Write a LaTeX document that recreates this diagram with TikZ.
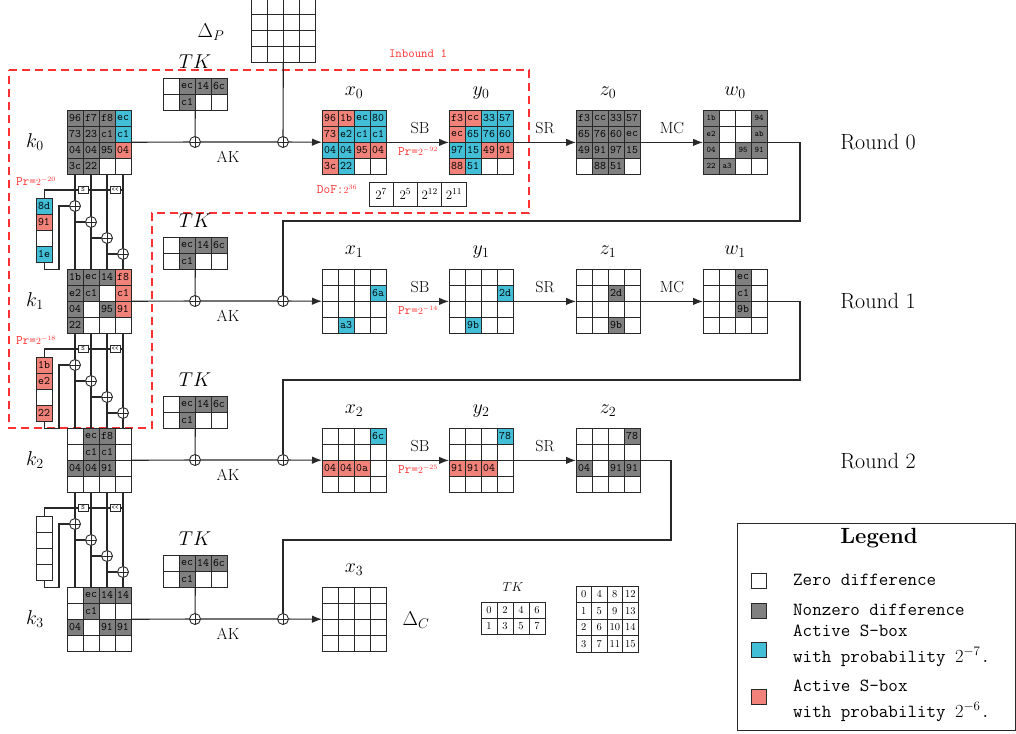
\RequirePackage{fix-cm}
\documentclass[tikz,border=0pt]{standalone}
\usetikzlibrary{arrows.meta,calc}

\definecolor{ink}{RGB}{40,40,40}
\definecolor{nz}{RGB}{128,128,128}
\definecolor{ac7}{RGB}{66,190,214}
\definecolor{ac6}{RGB}{240,130,122}
\definecolor{hot}{RGB}{252,50,50}

\newcommand\hexfont{\fontsize{11.5}{12}\ttfamily}
\newcommand\smallhexfont{\fontsize{8.5}{9}\ttfamily}
\newcommand\lblfont{\fontsize{20}{24}\selectfont}
\newcommand\opfont{\fontsize{16}{19}\selectfont}
\newcommand\notefont{\fontsize{13}{15}\ttfamily}
\newcommand\legfont{\fontsize{18.5}{26}\ttfamily}

\tikzset{
  cell/.style={draw=ink, line width=0.8pt, fill=white, minimum width=16pt,
    minimum height=16pt, inner sep=0pt, font=\hexfont},
  frame/.style={draw=ink, line width=0.8pt, inner sep=0pt},
  wire/.style={draw=ink, line width=1.1pt},
  flow/.style={wire, -{Latex[length=10pt,width=7.5pt]}},
  xor/.style={circle, draw=ink, line width=0.9pt, fill=white, inner sep=0pt,
    minimum size=11pt, path picture={\draw[ink, line width=0.9pt]
      (path picture bounding box.north) -- (path picture bounding box.south)
      (path picture bounding box.west) -- (path picture bounding box.east);}},
  opbox/.style={draw=ink, line width=0.7pt, fill=white, inner sep=1pt,
    minimum width=10pt, minimum height=7pt, font=\fontsize{6.5}{7}\ttfamily},
  lbl/.style={font=\lblfont},
  oplbl/.style={font=\opfont},
  prob/.style={text=hot, font=\notefont},
  swatch/.style={draw=ink, line width=0.8pt, minimum size=15pt, inner sep=0pt},
  legtext/.style={anchor=west, font=\legfont, inner sep=0pt},
}

% empty grid of 16pt cells; #1 name, #2 left, #3 top, #4 columns, #5 rows
\newcommand\blankgrid[5]{%
  \foreach \gi in {1,...,#4}{%
    \foreach \gj in {1,...,#5}{%
      \node[cell] (#1-\gi-\gj) at ({#2+16*\gi-8},{#3+16*\gj-8}) {};}}%
  \node[frame, minimum width=16*#4, minimum height=16*#5, anchor=north west] (#1) at (#2,#3) {};}

% coloured cells: column/row/colour/text
\newcommand\paint[3][]{%
  \foreach \cx/\cy/\ck/\ct in {#3}{%
    \node[cell, fill=\ck, #1] (#2-\cx-\cy) at ($(#2.north west)+({16*\cx-8},{16*\cy-8})$) {\ct};}}

\begin{document}
\begin{tikzpicture}[x=1pt,y=-1pt]
\useasboundingbox (0,0) rectangle (1016,733);
\clip (0,0) rectangle (1016,733);

% plaintext difference
\blankgrid{dp}{251}{-2}{4}{4}
\node[lbl] (dplbl) at (211,32) {$\Delta_P$};

% inbound phase
\draw[hot, line width=1.1pt, dash pattern=on 8pt off 5pt]
  (9,70) -- (529,70) -- (529,213) -- (152,213) -- (152,428) -- (9,428) -- cycle;
\node[text=hot, font=\fontsize{12.5}{14}\ttfamily] (inb) at (418,54) {Inbound 1};

% per-round key, tweakey and state input
\foreach \rw/\tp in {0/110,1/269,2/428,3/587}{
  \blankgrid{tk\rw}{163}{\tp-32}{4}{2}
  \paint{tk\rw}{2/1/nz/ec, 3/1/nz/14, 4/1/nz/6c, 2/2/nz/c1}
  \node[lbl] (tkl\rw) at (195,\tp-48) {$TK$};
  \node[xor] (ak\rw) at (195,\tp+32) {};
  \node[xor] (xp\rw) at (283,\tp+32) {};
  \node[oplbl] (akl\rw) at (228,\tp+47) {AK};
  \node[lbl] (kl\rw) at (35,\tp+32) {$k_\rw$};
  \blankgrid{k\rw}{67}{\tp}{4}{4}
  \blankgrid{x\rw}{322}{\tp}{4}{4}
  \node[lbl] (xl\rw) at (354,\tp-17) {$x_\rw$};
  \draw[wire] (tk\rw) -- (ak\rw);
  \draw[wire] (k\rw) -- (ak\rw) -- (xp\rw);
  \draw[flow] (xp\rw) -- (x\rw);
}

\paint{k0}{1/1/nz/96, 2/1/nz/f7, 3/1/nz/f8, 4/1/ac7/ec, 1/2/nz/73, 2/2/nz/23,
  3/2/nz/c1, 4/2/ac7/c1, 1/3/nz/04, 2/3/nz/04, 3/3/nz/95, 4/3/ac6/04, 1/4/nz/3c, 2/4/nz/22}
\paint{k1}{1/1/nz/1b, 2/1/nz/ec, 3/1/nz/14, 4/1/ac6/f8, 1/2/nz/e2, 2/2/nz/c1,
  4/2/ac6/c1, 1/3/nz/04, 3/3/nz/95, 4/3/ac6/91, 1/4/nz/22}
\paint{k2}{2/1/nz/ec, 3/1/nz/f8, 2/2/nz/c1, 3/2/nz/c1, 1/3/nz/04, 2/3/nz/04, 3/3/nz/91}
\paint{k3}{2/1/nz/ec, 3/1/nz/14, 4/1/nz/14, 2/2/nz/c1, 1/3/nz/04, 3/3/nz/91, 4/3/nz/91}

% key schedule between consecutive round keys
\foreach \ks/\bt/\nx in {0/174/1, 1/333/2, 2/492/3}{
  \coordinate (tap\ks) at (123,\bt+16);
  \node[opbox] (sb\ks) at (83,\bt+16) {S};
  \node[opbox] (rot\ks) at (115,\bt+16) {{<}{<}};
  \blankgrid{cv\ks}{36}{\bt+24}{1}{4}
  \node[xor] (ka\ks) at (75,\bt+32) {};
  \node[xor] (kb\ks) at (91,\bt+48) {};
  \node[xor] (kc\ks) at (107,\bt+64) {};
  \node[xor] (kd\ks) at (123,\bt+80) {};
  \coordinate (ret\ks) at (59,\bt+32);
  \draw[wire] (k\ks-1-4) -- (ka\ks) -- (k\nx-1-1);
  \draw[wire] (k\ks-2-4) -- (kb\ks) -- (k\nx-2-1);
  \draw[wire] (k\ks-3-4) -- (kc\ks) -- (k\nx-3-1);
  \draw[wire] (k\ks-4-4) -- (kd\ks) -- (k\nx-4-1);
  \draw[wire] (ka\ks) |- (kb\ks);
  \draw[wire] (kb\ks) |- (kc\ks);
  \draw[wire] (kc\ks) |- (kd\ks);
  \draw[wire] (tap\ks) -- (rot\ks) -- (sb\ks) -| (cv\ks);
  \draw[wire] (cv\ks.south) -- ++(0,7) -| (ret\ks) -- (ka\ks);
}
\paint{cv0}{1/1/ac7/8d, 1/2/ac6/91, 1/4/ac7/1e}
\paint{cv1}{1/1/ac6/1b, 1/2/ac6/e2, 1/4/ac6/22}
\node[prob] (pk0) at (36,181) {Pr={\fontsize{9.5}{10}\selectfont$2^{-20}$}};
\node[prob] (pk1) at (36,340) {Pr={\fontsize{9.5}{10}\selectfont$2^{-18}$}};

% round 0
\paint{x0}{1/1/ac6/96, 2/1/ac6/1b, 3/1/ac7/ec, 4/1/ac7/80, 1/2/ac6/73, 2/2/ac7/e2,
  3/2/ac7/c1, 4/2/ac7/c1, 1/3/ac7/04, 2/3/ac7/04, 3/3/ac6/95, 4/3/ac6/04, 1/4/ac6/3c, 2/4/ac7/22}
\blankgrid{y0}{449}{110}{4}{4}
\paint{y0}{1/1/ac6/f3, 2/1/ac6/cc, 3/1/ac7/33, 4/1/ac7/57, 1/2/ac6/ec, 2/2/ac7/65,
  3/2/ac7/76, 4/2/ac7/60, 1/3/ac7/97, 2/3/ac7/15, 3/3/ac6/49, 4/3/ac6/91, 1/4/ac6/88, 2/4/ac7/51}
\blankgrid{z0}{576}{110}{4}{4}
\paint{z0}{1/1/nz/f3, 2/1/nz/cc, 3/1/nz/33, 4/1/nz/57, 1/2/nz/65, 2/2/nz/76,
  3/2/nz/60, 4/2/nz/ec, 1/3/nz/49, 2/3/nz/91, 3/3/nz/97, 4/3/nz/15, 2/4/nz/88, 3/4/nz/51}
\blankgrid{w0}{703}{110}{4}{4}
\paint[font=\smallhexfont]{w0}{1/1/nz/1b, 4/1/nz/94, 1/2/nz/e2, 4/2/nz/ab, 1/3/nz/04,
  3/3/nz/95, 4/3/nz/91, 1/4/nz/22, 2/4/nz/a3}
\node[lbl] (yl0) at (481,93) {$y_0$};
\node[lbl] (zl0) at (608,93) {$z_0$};
\node[lbl] (wl0) at (735,93) {$w_0$};
\draw[flow] (x0) -- (y0);
\draw[flow] (y0) -- (z0);
\draw[flow] (z0) -- (w0);
\node[oplbl] (sbl0) at (420,128) {SB};
\node[prob] (pr0) at (418,151) {Pr={\fontsize{9.5}{10}\selectfont$2^{-92}$}};
\node[oplbl] (srl0) at (545,128) {SR};
\node[oplbl] (mcl0) at (672,128) {MC};
\node[font=\fontsize{22}{26}\selectfont] (rd0) at (878,142) {Round 0};
\draw[wire] (dp) -- (xp0);

% degrees of freedom
\node[prob] (dof) at (337,189) {DoF:{\fontsize{9.5}{10}\selectfont$2^{36}$}};
\foreach \q/\ex in {1/7,2/5,3/12,4/11}{
  \node[draw=ink, line width=0.8pt, minimum width=24.25pt, minimum height=24pt,
    inner sep=0pt, font=\fontsize{13}{14}\selectfont] (dof\q) at ({369+24.25*\q-12.125},194) {$2^{\ex}$};
}

% round 1
\paint{x1}{4/2/ac7/6a, 2/4/ac7/a3}
\blankgrid{y1}{449}{269}{4}{4}
\paint{y1}{4/2/ac7/2d, 2/4/ac7/9b}
\blankgrid{z1}{576}{269}{4}{4}
\paint{z1}{3/2/nz/2d, 3/4/nz/9b}
\blankgrid{w1}{703}{269}{4}{4}
\paint{w1}{3/1/nz/ec, 3/2/nz/c1, 3/3/nz/9b}
\node[lbl] (yl1) at (481,252) {$y_1$};
\node[lbl] (zl1) at (608,252) {$z_1$};
\node[lbl] (wl1) at (735,252) {$w_1$};
\draw[flow] (x1) -- (y1);
\draw[flow] (y1) -- (z1);
\draw[flow] (z1) -- (w1);
\node[oplbl] (sbl1) at (420,287) {SB};
\node[prob] (pr1) at (418,310) {Pr={\fontsize{9.5}{10}\selectfont$2^{-14}$}};
\node[oplbl] (srl1) at (545,287) {SR};
\node[oplbl] (mcl1) at (672,287) {MC};
\node[font=\fontsize{22}{26}\selectfont] (rd1) at (878,301) {Round 1};
\coordinate (fb0) at (800,221);
\draw[wire] (w0) -| (fb0) -| (xp1);

% round 2
\paint{x2}{4/1/ac7/6c, 1/3/ac6/04, 2/3/ac6/04, 3/3/ac6/0a}
\blankgrid{y2}{449}{428}{4}{4}
\paint{y2}{4/1/ac7/78, 1/3/ac6/91, 2/3/ac6/91, 3/3/ac6/04}
\blankgrid{z2}{576}{428}{4}{4}
\paint{z2}{4/1/nz/78, 1/3/nz/04, 3/3/nz/91, 4/3/nz/91}
\node[lbl] (yl2) at (481,411) {$y_2$};
\node[lbl] (zl2) at (608,411) {$z_2$};
\draw[flow] (x2) -- (y2);
\draw[flow] (y2) -- (z2);
\node[oplbl] (sbl2) at (420,446) {SB};
\node[prob] (pr2) at (418,469) {Pr={\fontsize{9.5}{10}\selectfont$2^{-25}$}};
\node[oplbl] (srl2) at (545,446) {SR};
\node[font=\fontsize{22}{26}\selectfont] (rd2) at (878,461) {Round 2};
\coordinate (fb1) at (800,380);
\draw[wire] (w1) -| (fb1) -| (xp2);

% output
\coordinate (fb2) at (671,540);
\draw[wire] (z2) -| (fb2) -| (xp3);
\node[lbl] (dcl) at (416,620) {$\Delta_C$};

% cell numbering
\node[font=\fontsize{13}{15}\selectfont] (tkn) at (513,587) {$TK$};
\foreach \ca in {1,...,4}{\foreach \ra in {1,2}{
  \pgfmathtruncatemacro\vv{2*(\ca-1)+\ra-1}
  \node[cell, font=\fontsize{10.5}{12}\selectfont] (tkn-\ca-\ra) at ({481+16*\ca-8},{602+16*\ra-8}) {\vv};}}
\foreach \ca in {1,...,4}{\foreach \ra in {1,...,4}{
  \pgfmathtruncatemacro\vv{4*(\ca-1)+\ra-1}
  \node[cell, minimum width=15.5pt, minimum height=16.5pt, font=\fontsize{10.5}{12}\selectfont]
    (stn-\ca-\ra) at ({576+15.5*\ca-7.75},{586+16.5*\ra-8.25}) {\vv};}}

% legend
\node[draw=ink, line width=0.9pt, minimum width=278pt, minimum height=207pt,
  inner sep=0pt, anchor=north west] (legend) at (737,523) {};
\node[font=\fontsize{22}{26}\bfseries] (legt) at (879,538) {Legend};
\node[swatch, fill=white] (sw1) at (759,581) {};
\node[swatch, fill=nz] (sw2) at (759,611) {};
\node[swatch, fill=ac7] (sw3) at (759,650) {};
\node[swatch, fill=ac6] (sw4) at (759,697) {};
\node[legtext] (lt1) at (793,580) {Zero difference};
\node[legtext] (lt2) at (793,610) {Nonzero difference};
\node[legtext, align=left] (lt3) at (793,646) {Active S-box\\with probability $2^{-7}$.};
\node[legtext, align=left] (lt4) at (793,701) {Active S-box\\with probability $2^{-6}$.};
\end{tikzpicture}
\end{document}
